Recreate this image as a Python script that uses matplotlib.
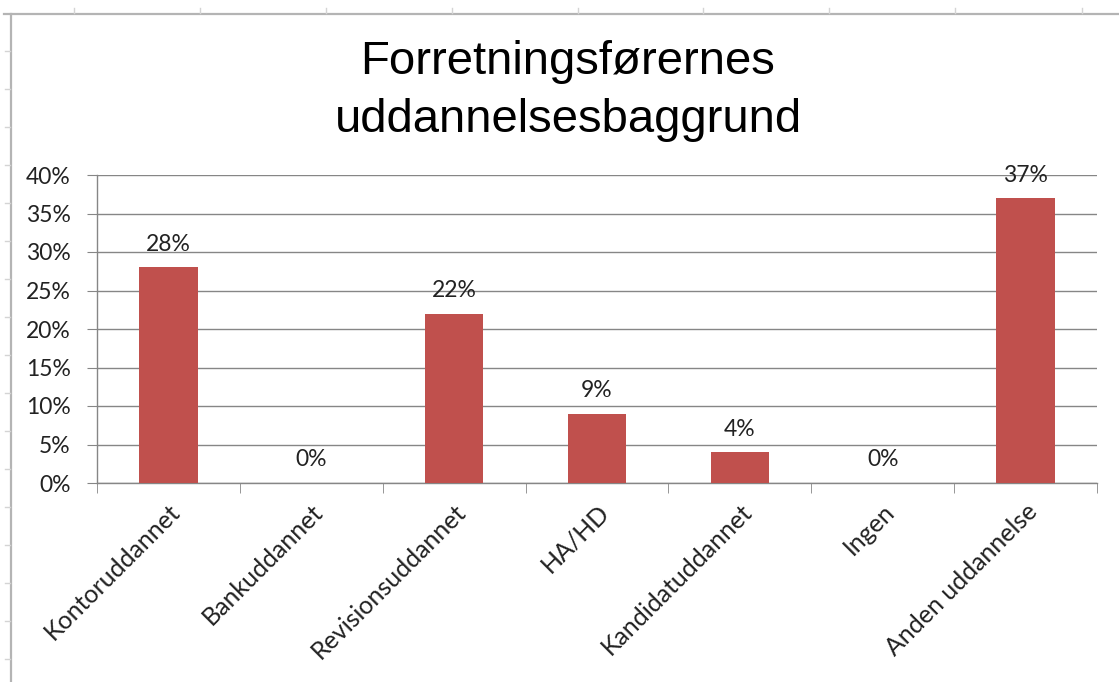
import matplotlib.pyplot as plt
from matplotlib.lines import Line2D

categories = ['Kontoruddannet', 'Bankuddannet', 'Revisionsuddannet', 'HA/HD',
              'Kandidatuddannet', 'Ingen', 'Anden uddannelse']
values = [0.28, 0.00, 0.22, 0.09, 0.04, 0.00, 0.37]
value_labels = ['28%', '0%', '22%', '9%', '4%', '0%', '37%']
yticks = [0, 0.05, 0.10, 0.15, 0.20, 0.25, 0.30, 0.35, 0.40]
ytick_labels = ['0%', '5%', '10%', '15%', '20%', '25%', '30%', '35%', '40%']

W, H = 1119, 682
fig = plt.figure(figsize=(W / 100, H / 100), dpi=100)
fig.patch.set_facecolor('white')

# spreadsheet cell lines around the chart frame
frame = '#b4b4b4'
cell = '#d4d4d4'
fig.add_artist(Line2D([4 / W, 1], [1 - 14 / H, 1 - 14 / H], color=frame, lw=1.6, transform=fig.transFigure))
fig.add_artist(Line2D([11 / W, 11 / W], [0, 1 - 14 / H], color=frame, lw=1.6, transform=fig.transFigure))
for x in [74, 200, 326, 452, 578, 703, 829, 955, 1082]:
    fig.add_artist(Line2D([x / W, x / W], [1 - 8 / H, 1 - 13 / H], color=cell, lw=1, transform=fig.transFigure))
for y in range(51, 682, 38):
    fig.add_artist(Line2D([5 / W, 10 / W], [1 - y / H, 1 - y / H], color=cell, lw=1, transform=fig.transFigure))

ax = fig.add_axes([97 / W, 1 - 483 / H, 1000 / W, 308 / H])
xpos = list(range(len(categories)))
bars = ax.bar(xpos, values, width=0.41, color='#c0504d', zorder=3)

font = 'Lato'
for b, lab in zip(bars, value_labels):
    ax.annotate(lab, (b.get_x() + b.get_width() / 2, b.get_height()),
                xytext=(0, 9), textcoords='offset points', ha='center', va='bottom',
                fontsize=16.5, family=font, color='#222222')

ax.set_xlim(-0.5, len(categories) - 0.5)
ax.set_ylim(0, 0.40)
ax.set_yticks(yticks)
ax.set_yticklabels(ytick_labels, family=font, fontsize=16.5, color='#222222')
ax.set_xticks(xpos)
ax.set_xticklabels(categories, rotation=45, ha='right', rotation_mode='anchor',
                   family=font, fontsize=18, color='#222222')
ax.set_xticks([i - 0.5 for i in range(len(categories) + 1)], minor=True)
ax.tick_params(axis='x', which='major', length=0, pad=12)
ax.tick_params(axis='x', which='minor', length=7, color='#868686', direction='out')
ax.tick_params(axis='y', length=7, color='#868686', pad=12)
ax.yaxis.grid(True, color='#868686', lw=1, zorder=0)
for s in ['top', 'right']:
    ax.spines[s].set_visible(False)
for s in ['left', 'bottom']:
    ax.spines[s].set_color('#868686')
    ax.spines[s].set_linewidth(1)

fig.text(568 / W, 1 - 91 / H, 'Forretningsførernes\nuddannelsesbaggrund', ha='center', va='center',
         family='Liberation Sans', fontsize=34, linespacing=1.4, color='black')

fig.savefig('out.png', dpi=100, facecolor='white')
